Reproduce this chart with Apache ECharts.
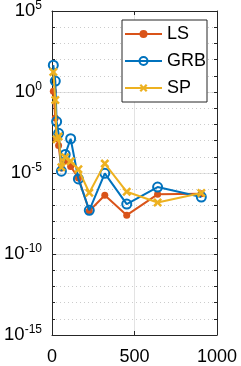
<!DOCTYPE html>
<html>
<head>
<meta charset="utf-8">
<script src="https://cdn.jsdelivr.net/npm/echarts@6/dist/echarts.min.js"></script>
<style>
html,body{margin:0;padding:0;background:#fff;}
#chart{width:241px;height:366px;}
</style>
</head>
<body>
<div id="chart"></div>
<script>
var xValues = [8, 20, 28, 40, 57, 80, 113, 160, 226, 320, 453, 640, 905];
var lsValues = [1.1, 2.5e-2, 1.3e-3, 5e-4, 2e-5, 5.6e-5, 2.5e-5, 5e-6, 4.5e-8, 4.2e-7, 2.5e-8, 4.8e-7, 5.2e-7];
var grbValues = [45, 4.7, 1.5e-2, 2.8e-3, 1.3e-5, 1.4e-4, 1.3e-3, 4.3e-6, 5e-8, 9.5e-6, 1.2e-7, 1.35e-6, 3.3e-7];
var spValues = [17, 0.32, 1.2e-3, 1.8e-3, 2.3e-5, 9.5e-5, 5.4e-5, 1.7e-5, 6e-7, 3.8e-5, 6.9e-7, 1.5e-7, 5.8e-7];
var seriesNames = ['LS', 'GRB', 'SP'];
var xTicks = [0, 500, 1000];

function pairs(ys) { return xValues.map(function (x, i) { return [x, ys[i]]; }); }

var font = 'Liberation Sans, Arial, Helvetica, sans-serif';
var axisColor = '#262626';
var xSym = 'path://M2,0L5,3L8,0L10,2L7,5L10,8L8,10L5,7L2,10L0,8L3,5L0,2Z';

var chart = echarts.init(document.getElementById('chart'), null, {renderer: 'canvas'});
var yBase = {type: 'log', logBase: 10, min: 1e-15, max: 1e5};
chart.setOption({
  animation: false,
  backgroundColor: '#fff',
  grid: {left: 52, right: 24, top: 10, bottom: 28, containLabel: false},
  xAxis: [
    {type: 'value', position: 'bottom', min: xTicks[0], max: xTicks[xTicks.length - 1], interval: 500,
     axisLine: {show: true, onZero: false, lineStyle: {color: axisColor, width: 1}},
     axisTick: {show: true, inside: true, length: 4, lineStyle: {color: axisColor}},
     axisLabel: {color: '#000', fontSize: 18, fontFamily: font, margin: 13,
       formatter: function (v) { return String(v); }},
     splitLine: {show: true, lineStyle: {color: '#e3e3e3', width: 1}}},
    {type: 'value', position: 'top', min: xTicks[0], max: xTicks[xTicks.length - 1], interval: 500,
     axisLine: {show: true, onZero: false, lineStyle: {color: axisColor, width: 1}},
     axisTick: {show: true, inside: true, length: 4, lineStyle: {color: axisColor}},
     axisLabel: {show: false}, splitLine: {show: false}}
  ],
  yAxis: [
    Object.assign({}, yBase, {position: 'left', interval: 5,
     axisLine: {show: true, onZero: false, lineStyle: {color: axisColor, width: 1}},
     axisTick: {show: true, inside: true, length: 4, lineStyle: {color: axisColor}},
     splitLine: {show: true, lineStyle: {color: '#e3e3e3', width: 1}},
     axisLabel: {margin: 10, fontFamily: font, color: '#000',
       formatter: function (v) { return '{b|10}{s|' + Math.round(Math.log10(v)) + '}'; },
       rich: {b: {fontSize: 18.5, fontFamily: font, color: '#000'},
              s: {fontSize: 12, fontFamily: font, color: '#000', verticalAlign: 'bottom', padding: [0, 0, 10, 0]}}}}),
    Object.assign({}, yBase, {position: 'left', interval: 1,
     axisLine: {show: false},
     axisTick: {show: true, inside: true, length: 3, lineStyle: {color: axisColor}},
     splitLine: {show: true, lineStyle: {color: '#cccccc', width: 1, type: [1, 3]}},
     axisLabel: {show: false}}),
    Object.assign({}, yBase, {position: 'right', interval: 1,
     axisLine: {show: true, onZero: false, lineStyle: {color: axisColor, width: 1}},
     axisTick: {show: true, inside: true, length: 3, lineStyle: {color: axisColor}},
     splitLine: {show: false}, axisLabel: {show: false}})
  ],
  legend: {
    orient: 'vertical', left: 122, top: 20,
    data: seriesNames,
    itemWidth: 37, itemHeight: 10, itemGap: 9,
    padding: [5, 1, 5, 2],
    backgroundColor: '#fff', borderColor: axisColor, borderWidth: 1,
    textStyle: {fontSize: 18, fontFamily: font, color: '#000'}
  },
  series: [
    {name: seriesNames[0], type: 'line', data: pairs(lsValues), symbol: 'circle', symbolSize: 7,
     lineStyle: {color: '#D95319', width: 2}, itemStyle: {color: '#D95319'}, z: 2},
    {name: seriesNames[1], type: 'line', data: pairs(grbValues), symbol: 'circle', symbolSize: 9,
     lineStyle: {color: '#0072BD', width: 2},
     itemStyle: {color: 'rgba(255,255,255,0)', borderColor: '#0072BD', borderWidth: 2}, z: 3},
    {name: seriesNames[2], type: 'line', data: pairs(spValues), symbol: xSym, symbolSize: 9,
     lineStyle: {color: '#EDB120', width: 2}, itemStyle: {color: '#EDB120'}, z: 4}
  ]
});
</script>
</body>
</html>
